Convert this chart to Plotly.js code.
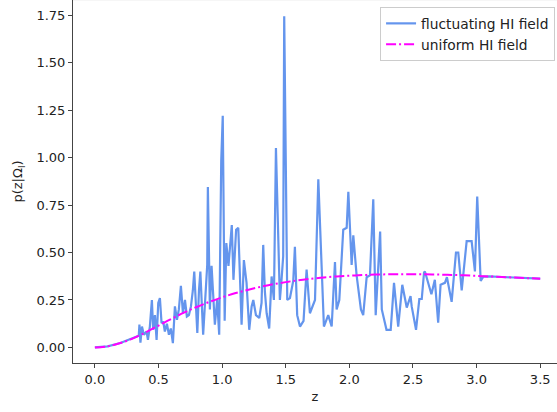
<!DOCTYPE html>
<html>
<head>
<meta charset="utf-8">
<script src="https://cdn.plot.ly/plotly-3.0.1.min.js"></script>
<style>
  html, body { margin: 0; padding: 0; background: #fff; }
  #chart { width: 557px; height: 412px; }
</style>
</head>
<body>
<div id="chart"></div>
<script>
// Redshift probability for a uniform HI field (smooth curve)
const uniformZ = [0.0, 0.1, 0.2, 0.3, 0.4, 0.5, 0.6, 0.7, 0.8, 0.9, 1.0, 1.1, 1.2, 1.3, 1.4,
  1.5, 1.6, 1.7, 1.8, 1.9, 2.0, 2.1, 2.2, 2.3, 2.4, 2.5, 2.6, 2.7, 2.8, 2.9, 3.0, 3.1, 3.2,
  3.3, 3.4, 3.5];
const uniformP = [0.0, 0.006, 0.023, 0.048, 0.08, 0.115, 0.15, 0.183, 0.213, 0.24, 0.264,
  0.285, 0.303, 0.319, 0.333, 0.344, 0.354, 0.362, 0.369, 0.374, 0.378, 0.381, 0.384, 0.385,
  0.386, 0.386, 0.385, 0.384, 0.382, 0.38, 0.377, 0.374, 0.371, 0.368, 0.365, 0.362];

// Redshift probability for a fluctuating HI field
const fluctZ = [0.0, 0.1, 0.2, 0.3, 0.345,
  0.350, 0.358, 0.370, 0.385, 0.406, 0.417, 0.432, 0.448, 0.458, 0.472, 0.485, 0.498, 0.511,
  0.524, 0.537, 0.550, 0.566, 0.582, 0.597, 0.613, 0.629, 0.645, 0.660, 0.676, 0.692, 0.708,
  0.723, 0.739, 0.755, 0.770, 0.781, 0.794, 0.805, 0.818, 0.829, 0.851, 0.883, 0.888, 0.904,
  0.917, 0.930, 0.943, 0.961, 0.977, 0.993, 1.005, 1.020, 1.033, 1.050, 1.076, 1.089, 1.110,
  1.127, 1.153, 1.171, 1.192, 1.213, 1.232, 1.245, 1.266, 1.292, 1.310, 1.323, 1.336, 1.350,
  1.370, 1.389, 1.407, 1.423, 1.441, 1.454, 1.468, 1.480, 1.488, 1.512, 1.533, 1.559, 1.572,
  1.590, 1.612, 1.640, 1.664, 1.690, 1.730, 1.756, 1.800, 1.834, 1.861, 1.887, 1.900, 1.921,
  1.952, 1.979, 1.992, 2.018, 2.031, 2.057, 2.091, 2.109, 2.136, 2.162, 2.188, 2.207, 2.242,
  2.255, 2.292, 2.325, 2.351, 2.384, 2.416, 2.451, 2.481, 2.490, 2.524, 2.550, 2.569, 2.587,
  2.594, 2.645, 2.672, 2.698, 2.717, 2.751, 2.767, 2.804, 2.838, 2.856, 2.883, 2.922, 2.961,
  2.987, 3.005, 3.032, 3.053,
  3.1, 3.2, 3.3, 3.4, 3.5];
const fluctP = [0.0, 0.006, 0.023, 0.048, 0.062,
  0.12, 0.025, 0.11, 0.067, 0.084, 0.04, 0.11, 0.25, 0.093, 0.17, 0.04, 0.234, 0.26,
  0.128, 0.137, 0.084, 0.125, 0.067, 0.10, 0.023, 0.216, 0.146, 0.20, 0.325, 0.18, 0.25,
  0.163, 0.17, 0.216, 0.30, 0.40, 0.25, 0.076, 0.30, 0.40, 0.067, 0.435, 0.845, 0.20,
  0.43, 0.234, 0.12, 0.25, 0.067, 0.98, 1.22, 0.14, 0.55, 0.43, 0.645, 0.356, 0.62,
  0.63, 0.12, 0.46, 0.34, 0.093, 0.216, 0.25, 0.17, 0.155, 0.234, 0.54, 0.295, 0.18,
  0.10, 0.374, 0.25, 1.05, 0.55, 0.25, 0.365, 0.48, 1.745, 0.25, 0.26, 0.35, 0.53,
  0.17, 0.11, 0.14, 0.41, 0.18, 0.25, 0.886, 0.11, 0.17, 0.11, 0.45, 0.20, 0.25,
  0.62, 0.63, 0.82, 0.435, 0.59, 0.38, 0.20, 0.17, 0.37, 0.38, 0.78, 0.17, 0.61,
  0.20, 0.093, 0.093, 0.34, 0.11, 0.33, 0.21, 0.27, 0.216, 0.093, 0.255, 0.255, 0.395,
  0.40, 0.28, 0.356, 0.13, 0.33, 0.34, 0.37, 0.24, 0.50, 0.50, 0.30, 0.56, 0.56,
  0.40, 0.795, 0.35, 0.373,
  0.374, 0.371, 0.368, 0.365, 0.362];

const seriesNames = ['fluctuating HI field', 'uniform HI field'];
const xTicks = [0.0, 0.5, 1.0, 1.5, 2.0, 2.5, 3.0, 3.5];
const yTicks = [0.0, 0.25, 0.5, 0.75, 1.0, 1.25, 1.5, 1.75];

const font = 'DejaVu Sans, sans-serif';

const traces = [
  {
    x: fluctZ, y: fluctP, name: seriesNames[0], mode: 'lines', type: 'scatter',
    line: { color: '#6495ED', width: 2.2 }
  },
  {
    x: uniformZ, y: uniformP, name: seriesNames[1], mode: 'lines', type: 'scatter',
    line: { color: '#FF00FF', width: 2, dash: '10px,3px,2px,3px', shape: 'spline' }
  }
];

const axisCommon = {
  showgrid: false, zeroline: false, showline: true, linecolor: '#444', linewidth: 1,
  ticks: 'outside', ticklen: 4, tickwidth: 1, tickcolor: '#444',
  tickfont: { family: font, size: 13, color: '#222' }
};

const layout = {
  width: 557, height: 412,
  margin: { l: 73, r: 0, t: 0, b: 49 },
  paper_bgcolor: '#fff', plot_bgcolor: '#fff',
  font: { family: font, size: 13, color: '#222' },
  xaxis: Object.assign({}, axisCommon, {
    range: [-0.172, 3.632], tickvals: xTicks,
    ticktext: xTicks.map(v => v.toFixed(1)),
    title: { text: 'z', font: { family: font, size: 13, color: '#222' }, standoff: 6 }
  }),
  yaxis: Object.assign({}, axisCommon, {
    range: [-0.082, 1.83], tickvals: yTicks,
    ticktext: yTicks.map(v => v.toFixed(2)),
    title: { text: 'p(z|Ω<sub>l</sub>)', font: { family: font, size: 13, color: '#222' }, standoff: 10 }
  }),
  legend: {
    x: 0.996, xanchor: 'right', y: 0.981, yanchor: 'top',
    bgcolor: 'rgba(255,255,255,0.9)', bordercolor: '#ccc', borderwidth: 1,
    font: { family: font, size: 13.8, color: '#222' },
    tracegroupgap: 0
  },
  shapes: [
    { type: 'line', xref: 'paper', yref: 'paper', x0: 0, x1: 1, y0: 1, y1: 1,
      line: { color: '#eee', width: 1 } }
  ],
  showlegend: true
};

Plotly.newPlot('chart', traces, layout, { displayModeBar: false, staticPlot: true });
</script>
</body>
</html>
